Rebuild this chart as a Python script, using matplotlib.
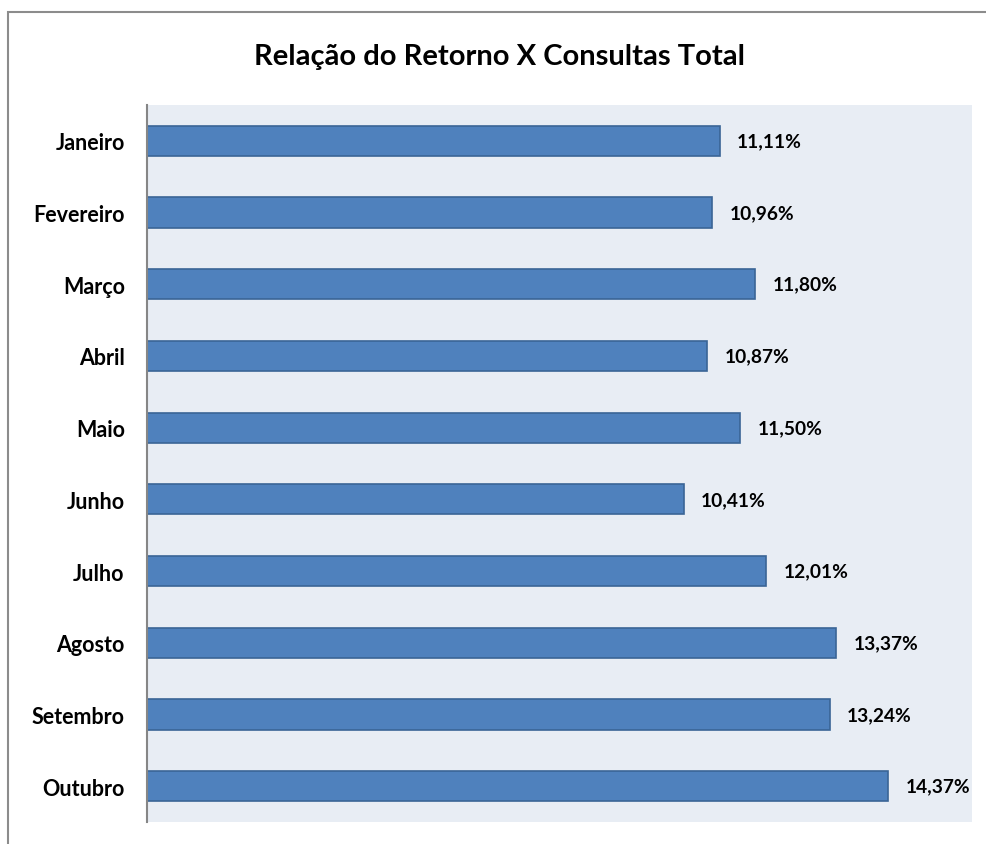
import matplotlib
matplotlib.use("Agg")
import matplotlib.pyplot as plt
from matplotlib.patches import Rectangle

months = ["Janeiro", "Fevereiro", "Março", "Abril", "Maio", "Junho",
          "Julho", "Agosto", "Setembro", "Outubro"]
values = [11.11, 10.96, 11.80, 10.87, 11.50, 10.41, 12.01, 13.37, 13.24, 14.37]
value_labels = ["11,11%", "10,96%", "11,80%", "10,87%", "11,50%", "10,41%",
                "12,01%", "13,37%", "13,24%", "14,37%"]

plt.rcParams['font.family'] = ['Lato', 'DejaVu Sans']

W, H = 987, 845
fig = plt.figure(figsize=(W / 100, H / 100), dpi=100)

# outer chart border
fig.patches.append(Rectangle((8 / W, -0.01), 1.0, (H - 13) / H + 0.01,
                             transform=fig.transFigure, fill=False,
                             edgecolor="#8c8c8c", linewidth=1.5))

left, right, top, bottom = 147, 972, 106, 823
ax = fig.add_axes([left / W, 1 - bottom / H, (right - left) / W, (bottom - top) / H])
ax.set_facecolor("#E8EDF4")

y = list(range(len(months)))
ax.barh(y, values, height=0.42, color="#4F81BD", edgecolor="#3A6596", linewidth=1.2)
ax.set_xlim(0, 16.0)
ax.set_ylim(len(months) - 0.5, -0.5)
ax.set_yticks(y)
ax.set_yticklabels(months, fontsize=15.5, fontweight="bold")
ax.tick_params(axis="y", length=0, pad=16)
ax.set_xticks([])

for s in ["top", "right", "bottom"]:
    ax.spines[s].set_visible(False)
ax.spines["left"].set_color("#868686")
ax.spines["left"].set_linewidth(1.5)

for yi, v, lab in zip(y, values, value_labels):
    ax.annotate(lab, (v, yi), xytext=(12.5, 0), textcoords="offset points",
                va="center", ha="left", fontsize=13.8, fontweight="bold")

fig.text(500 / W, 1 - 57 / H, "Relação do Retorno X Consultas Total",
         ha="center", va="center", fontsize=21, fontweight="bold")

fig.savefig("out.png", dpi=100)
